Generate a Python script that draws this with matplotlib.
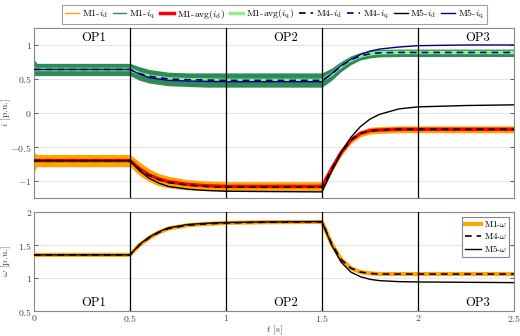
import matplotlib
matplotlib.use("Agg")
import matplotlib.pyplot as plt
from matplotlib.lines import Line2D

plt.rcParams['font.family'] = ['cmr10', 'DejaVu Serif']
plt.rcParams['mathtext.fontset'] = 'cm'
plt.rcParams['axes.formatter.use_mathtext'] = True
plt.rcParams['axes.unicode_minus'] = True

t = [0, 0.015, 0.5, 0.55, 0.6, 0.65, 0.7, 0.8, 0.9, 1.0, 1.2, 1.5, 1.55, 1.6, 1.65, 1.7, 1.75, 1.8, 1.9, 2.0, 2.25, 2.5]

id_avg = [-0.70, -0.70, -0.70, -0.82, -0.91, -0.97, -1.01, -1.05, -1.07, -1.08, -1.08, -1.08, -0.82, -0.58, -0.40, -0.30, -0.26, -0.25, -0.24, -0.24, -0.24, -0.24]
id_hi = [-0.58, -0.61, -0.61, -0.72, -0.82, -0.89, -0.93, -0.98, -1.00, -1.01, -1.01, -1.01, -0.76, -0.53, -0.36, -0.26, -0.21, -0.20, -0.19, -0.19, -0.19, -0.19]
id_lo = [-0.86, -0.79, -0.79, -0.92, -1.01, -1.07, -1.10, -1.13, -1.14, -1.15, -1.15, -1.15, -0.88, -0.63, -0.45, -0.35, -0.31, -0.30, -0.29, -0.29, -0.29, -0.29]
id_m4 = [-0.70, -0.70, -0.70, -0.83, -0.92, -0.98, -1.02, -1.06, -1.08, -1.09, -1.09, -1.09, -0.83, -0.58, -0.40, -0.30, -0.26, -0.25, -0.24, -0.24, -0.24, -0.24]
id_m5 = [-0.70, -0.70, -0.70, -0.85, -0.96, -1.03, -1.08, -1.12, -1.14, -1.15, -1.155, -1.16, -0.86, -0.58, -0.36, -0.20, -0.09, -0.02, 0.06, 0.09, 0.11, 0.12]

iq_avg = [0.64, 0.64, 0.64, 0.58, 0.54, 0.52, 0.50, 0.49, 0.485, 0.48, 0.48, 0.48, 0.57, 0.69, 0.78, 0.84, 0.87, 0.885, 0.89, 0.89, 0.89, 0.89]
iq_hi = [0.79, 0.73, 0.73, 0.68, 0.64, 0.62, 0.60, 0.59, 0.59, 0.59, 0.59, 0.59, 0.66, 0.76, 0.84, 0.89, 0.92, 0.935, 0.94, 0.94, 0.94, 0.94]
iq_lo = [0.55, 0.55, 0.55, 0.48, 0.44, 0.42, 0.40, 0.39, 0.38, 0.38, 0.38, 0.38, 0.48, 0.61, 0.71, 0.78, 0.81, 0.825, 0.83, 0.83, 0.83, 0.83]
iq_m4 = [0.64, 0.64, 0.64, 0.58, 0.54, 0.52, 0.50, 0.49, 0.485, 0.48, 0.48, 0.48, 0.57, 0.69, 0.78, 0.84, 0.87, 0.885, 0.89, 0.89, 0.89, 0.89]
iq_m5 = [0.64, 0.64, 0.64, 0.57, 0.52, 0.50, 0.48, 0.47, 0.465, 0.46, 0.46, 0.46, 0.58, 0.70, 0.79, 0.86, 0.91, 0.94, 0.97, 0.99, 1.00, 1.00]

w_m1 = [1.35, 1.35, 1.35, 1.50, 1.61, 1.69, 1.75, 1.80, 1.82, 1.835, 1.845, 1.85, 1.52, 1.28, 1.15, 1.09, 1.07, 1.06, 1.06, 1.06, 1.06, 1.06]
w_m4 = [1.35, 1.35, 1.35, 1.50, 1.61, 1.69, 1.75, 1.80, 1.82, 1.835, 1.845, 1.85, 1.52, 1.28, 1.15, 1.09, 1.07, 1.06, 1.06, 1.06, 1.06, 1.06]
w_m5 = [1.35, 1.35, 1.35, 1.51, 1.62, 1.70, 1.76, 1.81, 1.83, 1.84, 1.85, 1.855, 1.50, 1.24, 1.09, 1.02, 0.98, 0.96, 0.945, 0.94, 0.935, 0.93]

op_labels = ['OP1', 'OP2', 'OP3']
op_x = [0.31, 1.31, 2.31]
switch_t = [0.5, 1.0, 1.5, 2.0]

C_OR = '#FFA500'
C_DG = '#2E8B57'
C_LG = '#90EE90'
C_NV = '#000080'

fig = plt.figure(figsize=(5.2, 3.36), dpi=100)
ax1 = fig.add_axes([0.0654, 0.4107, 0.923, 0.506])
ax2 = fig.add_axes([0.0654, 0.0744, 0.923, 0.2946])

for ax in (ax1, ax2):
    ax.set_xlim(0, 2.5)
    ax.grid(axis='y', color='#e6e6e6', lw=0.8)
    ax.set_axisbelow(True)
    for s in ax.spines.values():
        s.set_color('#888888')
        s.set_linewidth(0.8)
    ax.tick_params(labelsize=7, colors='#444444', direction='in', length=3,
                   right=True, top=False, width=0.6, pad=1.5)
    ax.set_xticks([0, 0.5, 1, 1.5, 2, 2.5])
    for ts in switch_t:
        ax.axvline(ts, color='black', lw=0.9, zorder=5)

# top axes
ax1.fill_between(t, iq_lo, iq_hi, color=C_DG, lw=0, zorder=2)
ax1.fill_between(t, id_lo, id_hi, color=C_OR, lw=0, zorder=2)
ax1.plot(t, iq_avg, color=C_LG, lw=2.5, zorder=3)
ax1.plot(t, id_avg, color='red', lw=2.5, zorder=3)
ax1.plot(t, iq_m5, color=C_NV, lw=1.0, zorder=4)
ax1.plot(t, id_m5, color='black', lw=1.0, zorder=4)
ax1.plot(t, iq_m4, color=C_NV, lw=1.2, ls=(0, (4, 3)), zorder=4)
ax1.plot(t, id_m4, color='black', lw=1.2, ls=(0, (4, 3)), zorder=4)
ax1.set_ylim(-1.25, 1.25)
ax1.set_yticks([-1, -0.5, 0, 0.5, 1])
ax1.set_yticklabels(['$-1$', '$-0.5$', '$0$', '$0.5$', '$1$'])
ax1.tick_params(labelbottom=False)
ax1.set_ylabel('$i$ [p.u.]', fontsize=7, color='#444444')
ax1.yaxis.set_label_coords(-0.043, 0.5)
for lab, x in zip(op_labels, op_x):
    ax1.text(x, 1.2, lab, ha='center', va='top', fontsize=9, zorder=6)

handles = [
    Line2D([], [], color=C_OR, lw=1.0),
    Line2D([], [], color=C_DG, lw=1.0),
    Line2D([], [], color='red', lw=2.5),
    Line2D([], [], color=C_LG, lw=2.5),
    Line2D([], [], color='black', lw=1.2, ls=(0, (4, 3))),
    Line2D([], [], color=C_NV, lw=1.2, ls=(0, (4, 3))),
    Line2D([], [], color='black', lw=1.0),
    Line2D([], [], color=C_NV, lw=1.0),
]
labels = ['M1-$i_\\mathrm{d}$', 'M1-$i_\\mathrm{q}$', 'M1-avg($i_\\mathrm{d}$)', 'M1-avg($i_\\mathrm{q}$)',
          'M4-$i_\\mathrm{d}$', 'M4-$i_\\mathrm{q}$', 'M5-$i_\\mathrm{d}$', 'M5-$i_\\mathrm{q}$']
leg = fig.legend(handles, labels, loc='upper center', bbox_to_anchor=(0.528, 1.0), ncol=8,
                 fontsize=7, frameon=True, fancybox=False, edgecolor='#888888',
                 handlelength=1.4, handletextpad=0.3, columnspacing=0.5, borderpad=0.3)
leg.get_frame().set_linewidth(0.8)

# bottom axes
ax2.plot(t, w_m1, color=C_OR, lw=3.0, zorder=3, label='M1-$\\omega$')
ax2.plot(t, w_m4, color='black', lw=1.2, ls=(0, (4, 3)), zorder=4, label='M4-$\\omega$')
ax2.plot(t, w_m5, color='black', lw=1.0, zorder=4, label='M5-$\\omega$')
ax2.set_ylim(0.5, 2)
ax2.set_yticks([0.5, 1, 1.5, 2])
ax2.set_yticklabels(['$0.5$', '$1$', '$1.5$', '$2$'])
ax2.set_xticklabels(['$0$', '$0.5$', '$1$', '$1.5$', '$2$', '$2.5$'])
ax2.set_ylabel('$\\omega$ [p.u.]', fontsize=7, color='#444444')
ax2.yaxis.set_label_coords(-0.043, 0.5)
ax2.set_xlabel('$t$ [s]', fontsize=7, color='#444444', labelpad=0)
for lab, x in zip(op_labels, op_x):
    ax2.text(x, 0.53, lab, ha='center', va='bottom', fontsize=9, zorder=6)
l2 = ax2.legend(loc='upper right', fontsize=6.5, frameon=True, fancybox=False,
                edgecolor='#888888', handlelength=1.8, handletextpad=0.3,
                borderpad=0.3, labelspacing=0.2, framealpha=1)
l2.get_frame().set_linewidth(0.8)
l2.set_zorder(10)

fig.savefig('out.png', dpi=100)
